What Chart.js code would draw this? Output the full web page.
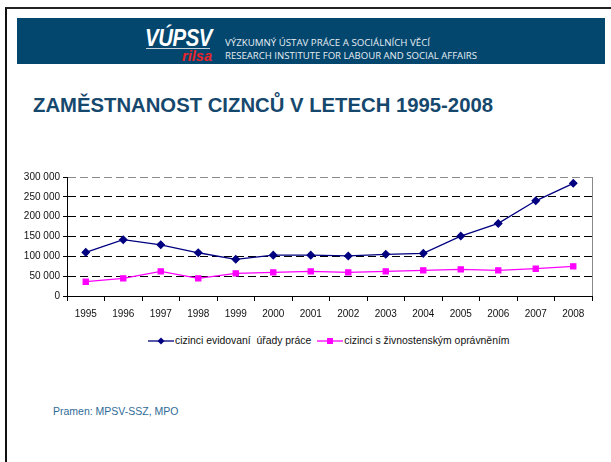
<!DOCTYPE html>
<html><head><meta charset="utf-8">
<script src="https://cdn.jsdelivr.net/npm/chart.js@4"></script>
<style>
html,body{margin:0;padding:0;background:#fff;width:611px;height:462px;overflow:hidden;font-family:"Liberation Sans",Arial,sans-serif;}
#frame{position:absolute;left:5px;top:7px;width:620px;height:470px;border-top:2px solid #222;border-left:2px solid #111;}
#banner{position:absolute;left:17px;top:18px;width:588px;height:46px;background:#03476f;}
.lg{position:absolute;color:#fff;font-weight:bold;font-style:italic;white-space:nowrap;transform-origin:0 0;}
#vupsv{left:145px;top:24px;font-size:24px;letter-spacing:-0.5px;}
#uline{position:absolute;left:146px;top:48px;width:64px;height:1px;background:#c8d4dc;}
#rilsa{left:182px;top:47px;font-size:15px;color:#e8242a;font-weight:bold;}
.ht{position:absolute;left:225px;color:#e8eef2;font-size:8.6px;white-space:nowrap;transform-origin:0 0;font-family:"Open Sans","Liberation Sans",sans-serif;}
#title{position:absolute;left:33px;top:94px;font-size:19.5px;font-weight:bold;color:#16486e;white-space:nowrap;transform-origin:0 0;}
#src{position:absolute;left:53px;top:405px;font-size:10.5px;color:#2f6b97;white-space:nowrap;}
#cwrap{position:absolute;left:0;top:165px;width:611px;height:160px;}
#legend{position:absolute;top:335px;left:148px;font-size:10.4px;color:#111;white-space:pre;display:flex;align-items:center;}
#legend svg{display:block;}
</style></head><body>
<div id="frame"></div>
<div id="banner"></div>
<div class="lg" id="vupsv">VÚPSV</div>
<div id="uline"></div>
<div class="lg" id="rilsa">rilsa</div>
<div class="ht" id="h1" style="top:37px">VÝZKUMNÝ ÚSTAV PRÁCE A SOCIÁLNÍCH VĚCÍ</div>
<div class="ht" id="h2" style="top:50px">RESEARCH INSTITUTE FOR LABOUR AND SOCIAL AFFAIRS</div>
<div id="title">ZAMĚSTNANOST CIZNCŮ V LETECH 1995-2008</div>
<div id="cwrap"><canvas id="c" width="611" height="160"></canvas></div>
<div id="legend">
<svg width="26" height="10"><line x1="0" y1="5" x2="26" y2="5" stroke="#000080" stroke-width="1.3"/><polygon points="13,1.5 16.5,5 13,8.5 9.5,5" fill="#000080"/></svg><span style="margin-left:1px;margin-right:6px">cizinci evidovaní  úřady práce</span>
<svg width="26" height="10"><line x1="0" y1="5" x2="26" y2="5" stroke="#ff00ff" stroke-width="1.3"/><rect x="10" y="2" width="6" height="6" fill="#ff00ff"/></svg><span style="margin-left:1px">cizinci s živnostenským oprávněním</span>
</div>
<div id="src">Pramen: MPSV-SSZ, MPO</div>
<script>
const years = ["1995","1996","1997","1998","1999","2000","2001","2002","2003","2004","2005","2006","2007","2008"];
const registeredByLabourOffices = [110000,142000,129000,109000,92500,103000,103000,101000,105000,107500,151000,183000,240000,284000];
const tradeLicence = [36000,44500,62000,44500,57000,59600,62000,59600,62000,64700,67000,64700,68800,74800];
const seriesNames = ["cizinci evidovaní  úřady práce","cizinci s živnostenským oprávněním"];
const yTicks = [0,50000,100000,150000,200000,250000,300000];

function fitWidth(id, w){const e=document.getElementById(id);const r=e.getBoundingClientRect().width;e.style.transform='scaleX('+(w/r)+')';}
fitWidth('h1',205);fitWidth('h2',252);fitWidth('title',460);fitWidth('vupsv',67);fitWidth('rilsa',30);

const fmt = v => String(v).replace(/\B(?=(\d{3})+(?!\d))/g,' ');

const edgePlugin = {
  id:'edge',
  afterDraw(chart){
    const {ctx, chartArea:a} = chart;
    ctx.save();
    ctx.strokeStyle='#8a8a8a';ctx.lineWidth=1;
    ctx.beginPath();ctx.moveTo(a.right+0.5,a.top);ctx.lineTo(a.right+0.5,a.bottom);ctx.stroke();
    ctx.restore();
  }
};

new Chart(document.getElementById('c'),{
  type:'line',
  data:{labels:years,datasets:[
    {label:seriesNames[0],data:registeredByLabourOffices,borderColor:'#000080',backgroundColor:'#000080',borderWidth:1.3,pointStyle:'rectRot',pointRadius:3.6,pointHoverRadius:3.6,tension:0},
    {label:seriesNames[1],data:tradeLicence,borderColor:'#ff00ff',backgroundColor:'#ff00ff',borderWidth:1.3,pointStyle:'rect',pointRadius:3.6,pointHoverRadius:3.6,tension:0}
  ]},
  options:{
    responsive:false,animation:false,
    layout:{padding:{top:12,right:19,left:0,bottom:0}},
    plugins:{legend:{display:false},tooltip:{enabled:false}},
    scales:{
      x:{offset:true,
        grid:{offset:true,drawOnChartArea:false,drawTicks:true,tickLength:5,tickColor:'#000'},
        border:{color:'#000',width:1},
        ticks:{color:'#111',font:{family:'Liberation Sans',size:10},padding:7,maxRotation:0,autoSkip:false},
        afterFit(s){s.height=29;}
      },
      y:{min:0,max:300000,
        afterBuildTicks(s){s.ticks=yTicks.map(v=>({value:v}));},
        grid:{color:c=>c.tick&&c.tick.value===0?'rgba(0,0,0,0)':(c.tick&&c.tick.value===300000?'#8a8a8a':'#000'),
              tickColor:'#000',tickLength:4,lineWidth:1},
        border:{color:'#000',width:1,dash:[8,4]},
        ticks:{color:'#111',font:{family:'Liberation Sans',size:10},padding:3,callback:v=>fmt(v)},
        afterFit(s){s.width=67;}
      }
    }
  },
  plugins:[edgePlugin]
});
</script>
</body></html>
